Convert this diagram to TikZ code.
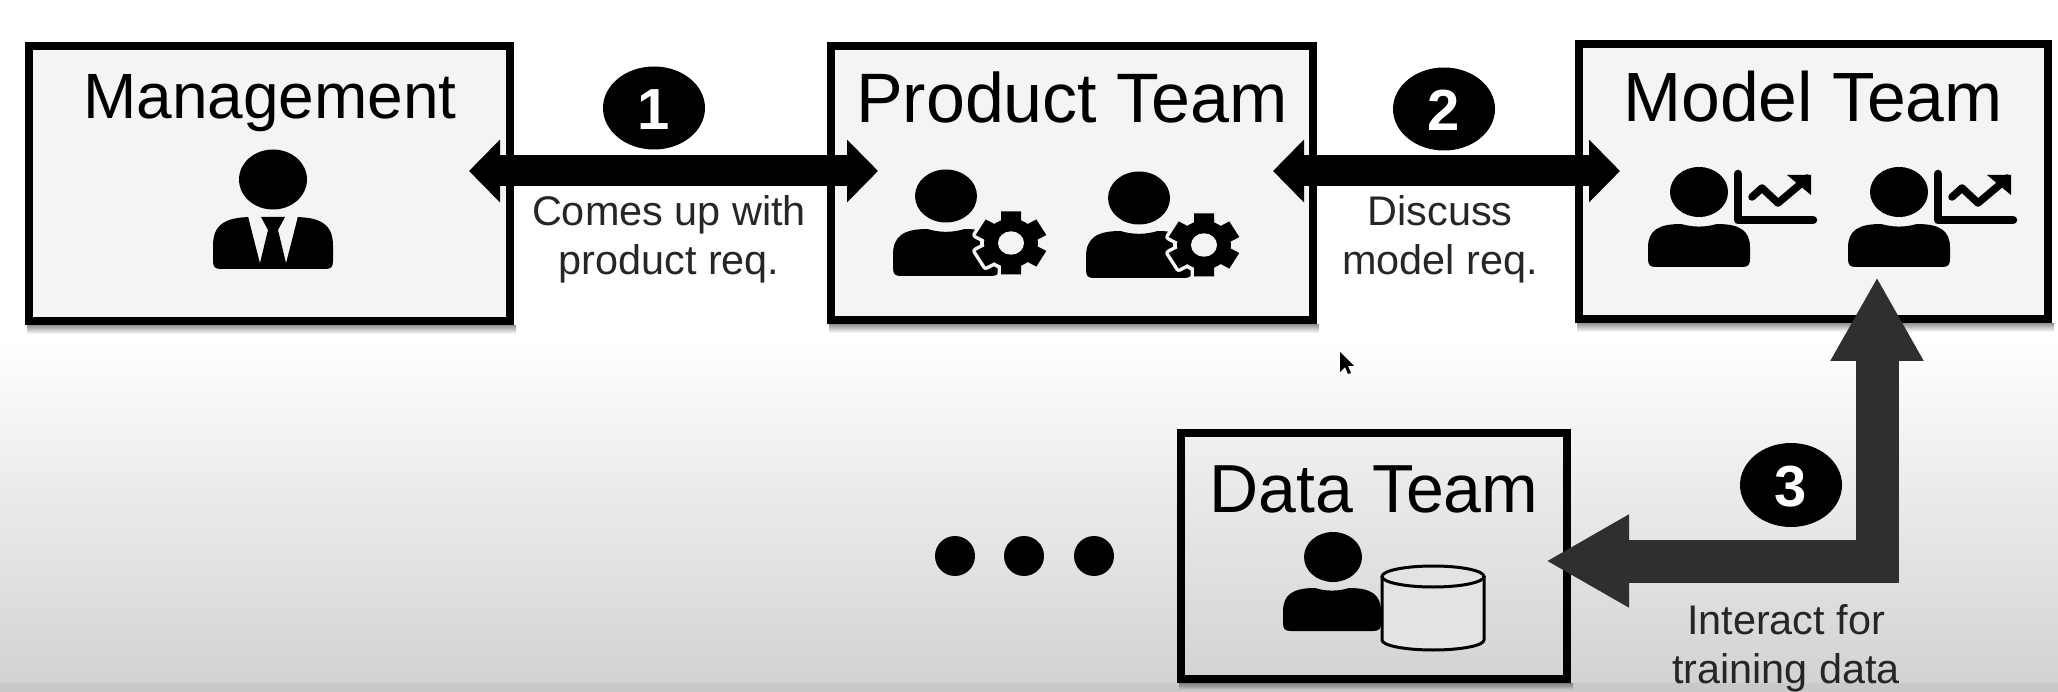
\documentclass[tikz,border=0pt]{standalone}
\usepackage{fontspec}
\setmainfont{Liberation Sans}
\usetikzlibrary{arrows.meta}
\definecolor{boxfill}{HTML}{F4F4F4}
\definecolor{arrowdark}{HTML}{2F2F2F}
\definecolor{labelgray}{HTML}{262626}
\newcommand{\bodyshape}[2]{% half width, height; origin top centre
  (-#1,#2-8) .. controls (-#1,#2-2) and (-#1+2,#2) .. (-#1+8,#2)
  -- (#1-8,#2) .. controls (#1-2,#2) and (#1,#2-2) .. (#1,#2-8)
  -- (#1,{0.55*#2}) .. controls (#1,{0.15*#2}) and ({0.8*#1},0) .. ({0.35*#1},0)
  .. controls ({0.12*#1},{0.08*#2}) and ({-0.12*#1},{0.08*#2}) .. ({-0.35*#1},0)
  .. controls ({-0.8*#1},0) and (-#1,{0.15*#2}) .. (-#1,{0.55*#2}) -- cycle}
\newcommand{\teeth}{%
  (-10,-35) -- (10,-35) -- (10,35) -- (-10,35) -- cycle
  [rotate=60] (-10,-35) -- (10,-35) -- (10,35) -- (-10,35) -- cycle
  [rotate=60] (-10,-35) -- (10,-35) -- (10,35) -- (-10,35) -- cycle}
\tikzset{
  x=1pt,y=-1pt,
  teambox/.style={draw=black,line width=8pt,fill=boxfill,inner sep=0pt,outer sep=0pt},
  boxshadow/.style={top color=black!38,bottom color=white},
  datashadow/.style={top color=black!50,bottom color=black!21},
  teamtitle/.style={anchor=base,inner sep=0pt,text=black},
  steplabel/.style={align=center,inner sep=0pt,text=labelgray,font=\fontsize{41.4}{49}\selectfont},
  bignum/.style={inner sep=0pt,text=white,font=\fontsize{58}{60}\selectfont\bfseries},
  bigarrow/.style={line width=31pt,{Triangle[length=31pt,width=61pt]}-{Triangle[length=31pt,width=61pt]}},
  dataarrow/.style={draw=arrowdark,line width=43pt,miter limit=10,{Triangle[length=83pt,width=87pt]}-{Triangle[length=84pt,width=87pt]}},
  pics/gearman/.style={code={
    \fill \bodyshape{53}{47};
    \fill (0,-33) ellipse [x radius=31pt,y radius=26.5pt];
    \begin{scope}[shift={(65,14)},yscale=0.9]
      \fill[boxfill] (0,0) circle (31pt);
      \draw[boxfill,line width=7pt,line join=round] \teeth;
      \fill \teeth;
      \fill (0,0) circle (27pt);
      \fill[boxfill] (0,0) circle (13pt);
    \end{scope}
  }},
  pics/chartman/.style={code={
    \fill \bodyshape{51}{43};
    \fill (0,-32) ellipse [x radius=29pt,y radius=25pt];
    \draw[line width=8.5pt,line cap=round,line join=round] (39,-50) -- (39,-4) -- (114,-4);
    \draw[line width=7.5pt,line cap=round,line join=round] (53,-27) -- (63,-36) -- (79,-21) -- (98,-37) -- (108,-46);
    \fill (88,-49) -- (112,-49) -- (112,-29) -- cycle;
  }},
}
\begin{document}
\begin{tikzpicture}
\useasboundingbox (0,0) rectangle (2058,692);
% background
\fill[white] (0,0) rectangle (2058,692);
\shade[top color=white,bottom color=black!18,shading angle=0] (0,340) rectangle (2058,692);
\fill[black!21] (0,683) rectangle (2058,692);

% soft shadows
\shade[boxshadow] (27,326) rectangle (516,334);
\shade[boxshadow] (829,325) rectangle (1319,333);
\shade[boxshadow] (1577,324) rectangle (2054,332);
\shade[datashadow] (1179,683) rectangle (1573,690);

% boxes
\node[teambox,minimum width=481pt,minimum height=275pt] (mgmt) at (269.5,183.5) {};
\node[teambox,minimum width=482pt,minimum height=274pt] (product) at (1072,183) {};
\node[teambox,minimum width=469pt,minimum height=275pt] (model) at (1813.5,181.5) {};
\node[teambox,minimum width=386pt,minimum height=246pt,top color=black!6,bottom color=black!17,draw=black] (data) at (1374,556) {};

% titles
\node[teamtitle,font=\fontsize{64}{70}\selectfont] (mgmttitle) at (270,119) {Management};
\node[teamtitle,font=\fontsize{70}{70}\selectfont] (producttitle) at (1072,123) {Product Team};
\node[teamtitle,font=\fontsize{69.7}{70}\selectfont] (modeltitle) at (1813,122) {Model Team};
\node[teamtitle,font=\fontsize{68}{70}\selectfont] (datatitle) at (1374,512) {Data Team};

% icons: management
\begin{scope}[shift={(273,217)}]
  \fill \bodyshape{60}{52};
  \fill[boxfill] (-25,-1) -- (25,-1) -- (13,46) -- (-13,46) -- cycle;
  \fill (-13,46) -- (-13,52) -- (13,52) -- (13,46) -- cycle;
  \fill (-12,0) -- (12,0) -- (5,13) -- (13,46) -- (-13,46) -- (-5,13) -- cycle;
  \fill (0,-37.5) ellipse [x radius=34pt,y radius=30pt];
\end{scope}

% icons: product team
\pic at (946,229) {gearman};
\pic at (1139,231) {gearman};

% icons: model team
\pic at (1699,224) {chartman};
\pic at (1899,224) {chartman};

% icons: data team
\begin{scope}[shift={(1332,588)}]
  \fill \bodyshape{49}{43};
  \fill (1,-31) ellipse [x radius=29pt,y radius=25pt];
\end{scope}
\draw[line width=3pt,fill=black!11] (1382,576) -- (1382,640)
  arc [start angle=180,end angle=360,x radius=51pt,y radius=10pt] -- (1484,576);
\draw[line width=3pt,fill=black!11] (1433,576.5) ellipse [x radius=51pt,y radius=10.5pt];

% connectors
\coordinate (a1l) at (469,171);
\coordinate (a1r) at (878,171);
\coordinate (a2l) at (1273,171);
\coordinate (a2r) at (1620,171);
\coordinate (a3d) at (1546,561);
\coordinate (a3m) at (1877,277);
\draw[bigarrow] (a1l) -- (a1r);
\draw[bigarrow] (a2l) -- (a2r);
\draw[dataarrow] (a3d) -| (a3m);

% step badges
\fill (654,108) ellipse [x radius=51pt,y radius=41.5pt];
\fill (1444,109) ellipse [x radius=51pt,y radius=41.5pt];
\fill (1791,485) ellipse [x radius=51pt,y radius=42pt];
\node[bignum] (n1) at (654,110) {1};
\node[bignum] (n2) at (1444,110) {2};
\node[bignum] (n3) at (1791,487) {3};

% step labels
\node[steplabel] (l1) at (669,239) {Comes up with\\product req.};
\node[steplabel] (l2) at (1440,239) {Discuss\\model req.};
\node[steplabel] (l3) at (1786,648) {Interact for\\training data};

% dots
\fill (955,556) circle (20pt);
\fill (1024,556) circle (20pt);
\fill (1094,556) circle (20pt);

% pointer
\fill (1340,352) -- (1340,372) -- (1345,367) -- (1348,374) -- (1351,373) -- (1348,366) -- (1354,366) -- cycle;
\end{tikzpicture}
\end{document}
